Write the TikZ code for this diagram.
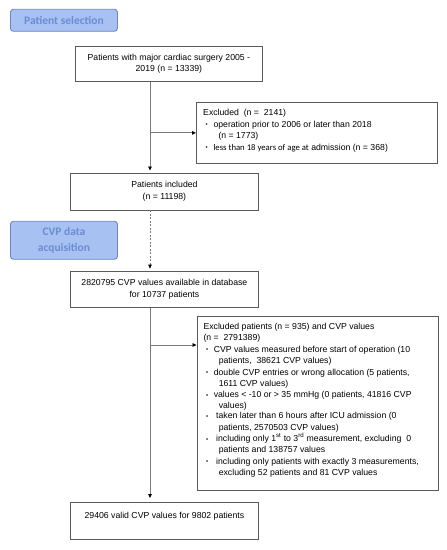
\documentclass[tikz,border=0pt]{standalone}
\usepackage{fontspec}
\setmainfont{Liberation Sans}
\newfontfamily\calib{Carlito}
\usetikzlibrary{arrows.meta}
\definecolor{hdfill}{HTML}{A7C2F2}
\definecolor{hddraw}{HTML}{6E86C0}
\definecolor{hdtext}{HTML}{6C8BD1}
\definecolor{lncol}{HTML}{7A7A7A}
\definecolor{bxcol}{HTML}{5A5A5A}
\newcommand\itm[1]{\makebox[#1][l]{\hspace*{2.5pt}\raisebox{0.4pt}{\fontsize{6}{6}\selectfont\textbullet}}}
\begin{document}
\begin{tikzpicture}[x=1pt,y=-1pt,
  header/.style={draw=hddraw, fill=hdfill, rounded corners=3pt, line width=0.9pt, text=hdtext,
    font=\calib\bfseries\fontsize{11.5}{16}\selectfont, align=center, anchor=north west, inner sep=0},
  flowbox/.style={draw=bxcol, line width=0.8pt, anchor=north west, inner sep=0, align=center,
    font=\fontsize{8.7}{11.6}\selectfont},
  exbox/.style={draw=bxcol, line width=0.8pt, anchor=north west, inner sep=0},
  extext/.style={anchor=north west, inner sep=0, align=left},
  conn/.style={draw=lncol, line width=0.8pt},
  arr/.style={conn, -{Triangle[length=4pt,width=3.6pt,color=black]}},
]
\useasboundingbox (0,0) rectangle (447,550);

\node[header, minimum width=107pt, minimum height=22pt] (h1) at (10,8.8) {Patient selection};
\node[flowbox, minimum width=187pt, minimum height=35.7pt] (b1) at (75,45.6)
  {Patients with major cardiac surgery 2005 -\\2019 (n = 13339)};

\node[exbox, minimum width=241pt, minimum height=61.7pt] (e1) at (196,101.6) {};
\node[extext, font=\fontsize{8.7}{11.6}\selectfont] (e1t) at (203,109)
  {Excluded\ \ (n = \ 2141)\\
   \itm{10.3pt}operation prior to 2006 or later than 2018\\
   \hspace*{15.3pt}(n = 1773)\\
   \itm{10.3pt}{\calib less than 18 years of age at} admission (n = 368)};

\node[flowbox, minimum width=188pt, minimum height=37pt] (b2) at (70,172.5)
  {Patients included\\(n = 11198)};

\node[header, minimum width=107pt, minimum height=38pt] (h2) at (10,220.8) {CVP data\\acquisition};

\node[flowbox, minimum width=188pt, minimum height=36.8pt] (b3) at (70,270.6)
  {2820795 CVP values available in database\\for 10737 patients};

\node[exbox, minimum width=241pt, minimum height=174.5pt] (e2) at (196.5,315.5) {};
\node[extext, font=\fontsize{8.7}{11.4}\selectfont] (e2t) at (203.3,322.9)
  {Excluded patients (n = 935) and CVP values\\
   (n = \ 2791389)\\
   \itm{10.3pt}CVP values measured before start of operation (10\\
   \hspace*{15.3pt}patients, \ 38621 CVP values)\\
   \itm{10.3pt}double CVP entries or wrong allocation (5 patients,\\
   \hspace*{15.3pt}1611 CVP values)\\
   \itm{10.3pt}values < -10 or > 35 mmHg (0 patients, 41816 CVP\\[-1pt]
   \hspace*{15.3pt}values)\\[-1pt]
   \itm{12.7pt}taken later than 6 hours after ICU admission (0\\
   \hspace*{15.3pt}patients, 2570503 CVP values)\\
   \itm{12.7pt}including only 1\textsuperscript{st} to 3\textsuperscript{rd} measurement, excluding \ 0\\
   \hspace*{15.3pt}patients and 138757 values\\
   \itm{12.7pt}including only patients with exactly 3 measurements,\\
   \hspace*{15.3pt}excluding 52 patients and 81 CVP values};

\node[flowbox, minimum width=188pt, minimum height=37pt] (b4) at (70,502)
  {29406 valid CVP values for 9802 patients\\\mbox{}};

\coordinate (mx) at (150,0);
\coordinate (j1) at (mx |- e1.west);
\coordinate (j2) at (150,345);

\draw[arr, shorten >=2pt] (b1.south -| mx) -- (b2.north -| mx);
\draw[arr] (j1) -- (e1.west);
\draw[arr, dash pattern=on 2pt off 1.5pt, shorten >=2pt] (b2.south -| mx) -- (b3.north -| mx);
\draw[arr, shorten >=4pt] (b3.south -| mx) -- (b4.north -| mx);
\draw[arr] (j2) -- (j2 -| e2.west);
\end{tikzpicture}
\end{document}
